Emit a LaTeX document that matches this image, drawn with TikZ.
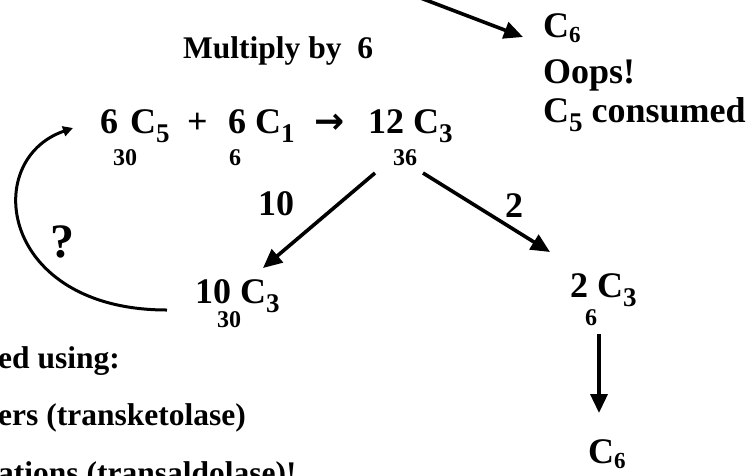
\documentclass[tikz,border=0pt]{standalone}
\usepackage{fontspec}
\setmainfont{Liberation Serif}
\newfontfamily\arrowfont{DejaVu Sans}
\usetikzlibrary{arrows.meta,positioning}
\newcommand{\sbc}[1]{\raisebox{-0.27em}{\fontsize{27}{27}\selectfont #1}}
\newcommand{\sbs}[1]{\raisebox{-0.15em}{\fontsize{23}{23}\selectfont #1}}
\tikzset{
  big/.style={font=\fontsize{36}{36}\selectfont\bfseries,inner sep=0pt,anchor=base west},
  cnt/.style={font=\fontsize{24}{24}\selectfont\bfseries,inner sep=0pt,anchor=base},
  note/.style={font=\fontsize{31.5}{32}\selectfont\bfseries,inner sep=0pt,anchor=base west},
  arr/.style={line width=3.6pt,-{Triangle[length=19pt,width=17pt]}}
}
\begin{document}
\begin{tikzpicture}[x=1pt,y=-1pt]
\useasboundingbox (0,0) rectangle (752,475);
\clip (0,0) rectangle (752,475);
% header
\node[note] (mult) at (183,58) {Multiply by\ \ 6};
% main equation
\node[big] (n6a) at (100,133) {6};
\node[big] (c5) at (130,133) {C\sbc{5}};
\node[big] (plus) at (187,133) {+};
\node[big] (n6b) at (228,133) {6};
\node[big] (c1) at (255,133) {C\sbc{1}};
\node[big] (yields) at (314,133) {\arrowfont\bfseries →};
\node[big] (n12) at (368,133) {12 C\sbc{3}};
\node[cnt] (k30a) at (125,165) {30};
\node[cnt] (k6a) at (235,165) {6};
\node[cnt] (k36) at (405,165) {36};
% branches
\node[big] (w10) at (258,215) {10};
\node[big] (w2) at (505,217) {2};
\node[big,font=\fontsize{48}{48}\selectfont\bfseries] (ask) at (50,257) {?};
\node[big] (n10) at (195,303) {10\ C\sbc{3}};
\node[cnt] (k30b) at (229,327) {30};
\node[big] (n2) at (570,297) {2 C\sbc{3}};
\node[cnt] (k6b) at (591,325) {6};
\node[big] (c6bot) at (588,463) {C\sbs{6}};
% top right
\node[big] (c6top) at (543,37) {C\sbs{6}};
\node[big] (oops) at (543,83) {Oops!};
\node[big] (gone) at (543,122) {C\sbc{5} consumed};
% left notes
\node[note] (l1) at (-2,368) {ed using:};
\node[note] (l2) at (-2,425) {ers (transketolase)};
\node[note] (l3) at (-2,483) {ations (transaldolase)!};
% arrows
\coordinate (topin) at (418,-3);
\draw[arr] (topin) -- ([shift={(-20,0)}]c6top.base west);
\draw[arr] ([shift={(7,40)}]n12.base west) -- ([shift={(68,-35)}]n10.base west);
\draw[arr] ([shift={(55,40)}]n12.base west) -- ([shift={(-20,-45)}]n2.base west);
\draw[arr] ([shift={(29,37)}]n2.base west) -- ([shift={(11,-50)}]c6bot.base west);
\draw[line width=3pt,-{Triangle[length=10pt,width=10pt]}] ([shift={(-28,7)}]n10.base west)
  .. controls (0,310) and (-20,160) .. ([shift={(-27,-5)}]n6a.base west);
\end{tikzpicture}
\end{document}
